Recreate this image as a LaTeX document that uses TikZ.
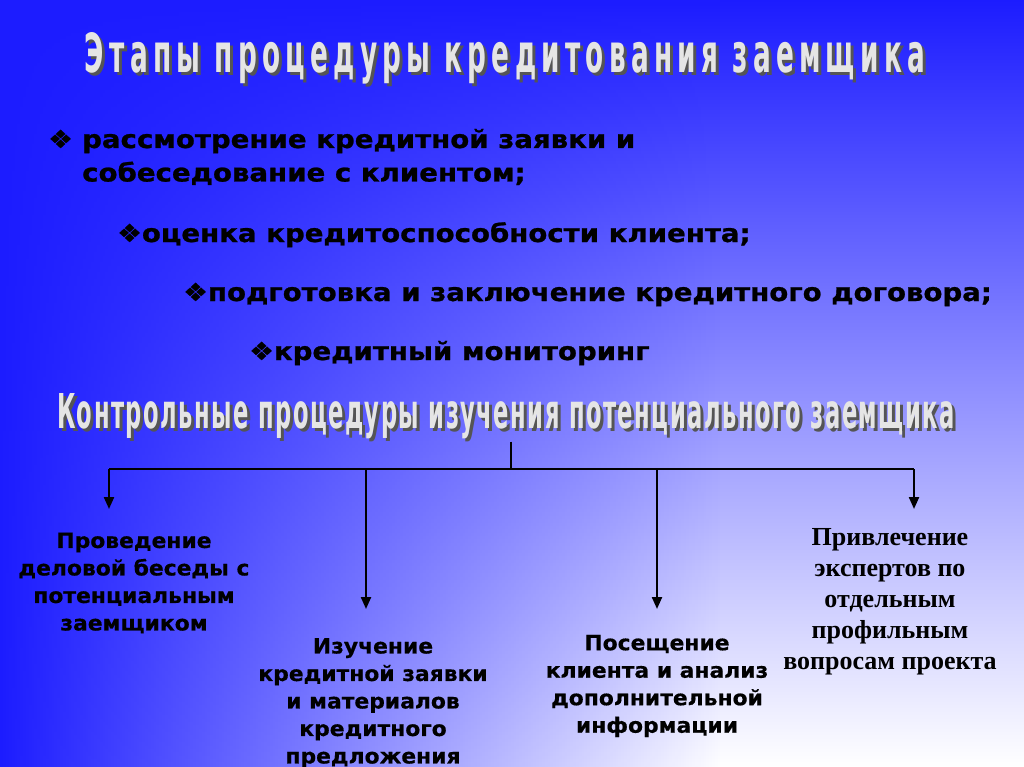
\documentclass[tikz,border=0pt]{standalone}
\usepackage{fontspec}
\usepackage{graphicx}
\usetikzlibrary{arrows.meta,fadings}
\setmainfont{DejaVu Sans}
\newfontfamily\titlefont{DejaVu Sans Condensed}[LetterSpace=18]
\newfontfamily\headfont{DejaVu Sans Condensed}[LetterSpace=6]
\newfontfamily\stagefont{DejaVu Sans}[FakeStretch=1.105,FakeBold=0.9]
\newfontfamily\checkfont{DejaVu Sans}[FakeStretch=1.04,FakeBold=0.5]
\newfontfamily\expertfont{Liberation Serif}
\definecolor{slideblue}{RGB}{28,28,255}
\definecolor{titleshade}{RGB}{85,85,85}
\tikzfading[name=leftfade, left color=transparent!0, right color=transparent!100]
% heading text with its drop shadow
\newcommand{\withshade}[1]{\makebox[0pt][l]{\hspace{3pt}\raisebox{-3pt}{\textcolor{titleshade}{#1}}}\textcolor{white!90!black}{#1}}

\begin{document}
\begin{tikzpicture}[x=1pt,y=1pt]
\tikzstyle{every node}+=[inner sep=0pt]
\tikzstyle{stage}=[anchor=base west, font=\stagefont\bfseries\fontsize{25}{33.5}\selectfont]
\tikzstyle{check}=[align=center, font=\checkfont\bfseries\fontsize{21}{27.5}\selectfont]
\tikzstyle{expert}=[align=center, font=\expertfont\bfseries\fontsize{26}{31}\selectfont]
\tikzstyle{bar}=[line width=2.2pt]
\tikzstyle{branch}=[line width=2.2pt, -{Triangle[length=12pt,width=10pt]}]
% background
\useasboundingbox (0,0) rectangle (1024,-767);
\shade[top color=slideblue, middle color=slideblue!40!white, bottom color=white] (0,0) rectangle (1024,-767);
\fill[slideblue, path fading=leftfade] (0,0) rectangle (720,-767);
% titles
\node[anchor=base] (title) at (505,-73) {\withshade{\resizebox{840pt}{40pt}{\titlefont\bfseries Этапы процедуры кредитования заемщика}}};
% stages
\node[stage] (stage1) at (48,-148) {\makebox[34pt][l]{❖}рассмотрение кредитной заявки и};
\node[stage] (stage1b) at (82,-181.5) {собеседование с клиентом;};
\node[stage] (stage2) at (117,-242) {❖оценка кредитоспособности клиента;};
\node[stage] (stage3) at (183,-301) {❖подготовка и заключение кредитного договора;};
\node[stage] (stage4) at (249,-360) {❖кредитный мониторинг};
% control procedures
\node[anchor=base] (sub) at (506,-428) {\withshade{\resizebox{898pt}{35pt}{\headfont\bfseries Контрольные процедуры изучения потенциального заемщика}}};
\node[check] (check1) at (134,-583) {Проведение\\деловой беседы с\\потенциальным\\заемщиком};
\node[check] (check2) at (373,-703) {Изучение\\кредитной заявки\\и материалов\\кредитного\\предложения};
\node[check] (check3) at (657,-686) {Посещение\\клиента и анализ\\дополнительной\\информации};
\node[expert] (check4) at (890,-602) {Привлечение\\экспертов по\\отдельным\\профильным\\вопросам проекта};
% connectors
\coordinate (fork) at (511,-469);
\coordinate (h1) at (109,-469);
\coordinate (h2) at (366,-469);
\coordinate (h3) at (657,-469);
\coordinate (h4) at (914,-469);
\coordinate (t1) at (109,-509);
\coordinate (t2) at (366,-609);
\coordinate (t3) at (657,-609);
\coordinate (t4) at (914,-509);
\draw[bar] (sub.south -| fork) -- (fork);
\draw[bar] (h1) -- (h4);
\draw[branch] (h1) -- (t1);
\draw[branch] (h2) -- (t2);
\draw[branch] (h3) -- (t3);
\draw[branch] (h4) -- (t4);
\end{tikzpicture}
\end{document}
